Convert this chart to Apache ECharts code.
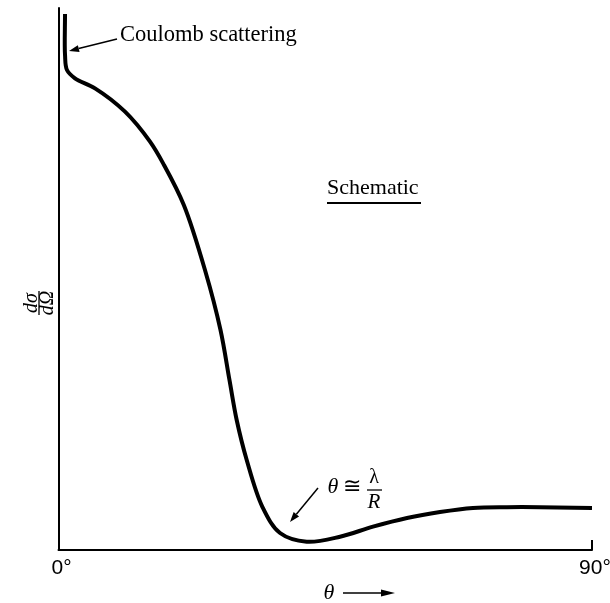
<!DOCTYPE html>
<html><head><meta charset="utf-8">
<script src="https://cdn.jsdelivr.net/npm/echarts@6/dist/echarts.min.js"></script>
<style>html,body{margin:0;padding:0;background:#fff}#c{width:610px;height:603px}</style>
</head><body><div id="c"></div>
<script>
// scattering angle (degrees)
const thetaDeg = [1.10, 1.10, 1.43, 2.78, 6.16, 11.22, 15.44, 17.80, 21.14, 24.71, 27.33, 28.84, 30.06, 31.75, 34.41, 37.37, 41.87, 47.49, 53.05, 58.79, 64.36, 69.92, 75.66, 81.23, 90.0];
// differential cross section (arbitrary units, schematic)
const crossSection = [98.89, 91.33, 88.56, 87.03, 85.18, 80.87, 75.33, 71.03, 63.65, 51.66, 40.59, 31.37, 23.99, 16.61, 7.93, 3.14, 1.53, 2.45, 4.30, 5.90, 7.0, 7.75, 7.9, 7.9, 7.75];
const xTickValues = [0, 90];
const xTickLabels = ['0°', '90°'];

const SERIF = '"Liberation Serif","DejaVu Serif",serif';
const SANS = '"Liberation Sans","DejaVu Sans",sans-serif';

function arrow(x1, y1, x2, y2, len, w) {
  const dx = x2 - x1, dy = y2 - y1, L = Math.hypot(dx, dy);
  const ux = dx / L, uy = dy / L, px = -uy, py = ux;
  const bx = x2 - ux * len, by = y2 - uy * len;
  return [
    { type: 'line', shape: { x1: x1, y1: y1, x2: bx, y2: by }, style: { stroke: '#000', lineWidth: 1.5 } },
    { type: 'polygon', shape: { points: [[x2, y2], [bx + px * w, by + py * w], [bx - px * w, by - py * w]] }, style: { fill: '#000' } }
  ];
}

// centripetal Catmull-Rom through pixel points -> SVG path
function catmullPath(P) {
  const n = P.length, a = 0.5;
  const pt = i => {
    if (i < 0) return [2 * P[0][0] - P[1][0], 2 * P[0][1] - P[1][1]];
    if (i >= n) return [2 * P[n - 1][0] - P[n - 2][0], 2 * P[n - 1][1] - P[n - 2][1]];
    return P[i];
  };
  const dist = (p, q) => Math.max(1e-6, Math.hypot(p[0] - q[0], p[1] - q[1]));
  let d = 'M' + P[0][0] + ',' + P[0][1];
  for (let i = 0; i < n - 1; i++) {
    const p0 = pt(i - 1), p1 = pt(i), p2 = pt(i + 1), p3 = pt(i + 2);
    const d1 = dist(p0, p1), d2 = dist(p1, p2), d3 = dist(p2, p3);
    const d1a = Math.pow(d1, a), d2a = Math.pow(d2, a), d3a = Math.pow(d3, a);
    const d12a = d1a * d1a, d22a = d2a * d2a, d32a = d3a * d3a;
    const b1 = [0, 1].map(k => (d12a * p2[k] - d22a * p0[k] + (2 * d12a + 3 * d1a * d2a + d22a) * p1[k]) / (3 * d1a * (d1a + d2a)));
    const b2 = [0, 1].map(k => (d32a * p1[k] - d22a * p3[k] + (2 * d32a + 3 * d3a * d2a + d22a) * p2[k]) / (3 * d3a * (d3a + d2a)));
    d += ' C' + b1[0] + ',' + b1[1] + ' ' + b2[0] + ',' + b2[1] + ' ' + p2[0] + ',' + p2[1];
  }
  return d;
}

const chart = echarts.init(document.getElementById('c'), null, { renderer: 'canvas' });
const data = thetaDeg.map((t, i) => [t, crossSection[i]]);

chart.setOption({
  animation: false,
  backgroundColor: '#fff',
  grid: { left: 58.5, right: 18, top: 8, bottom: 53, containLabel: false, outerBoundsMode: 'none' },
  xAxis: {
    type: 'value', min: 0, max: 90, interval: 90,
    axisLine: { show: true, lineStyle: { color: '#000', width: 2 } },
    axisTick: { show: true, inside: true, length: 10, lineStyle: { color: '#000', width: 2 } },
    axisLabel: {
      margin: 8, color: '#000', fontFamily: SANS, fontSize: 21, padding: [0, 0, 0, 6],
      formatter: v => xTickLabels[xTickValues.indexOf(v)]
    },
    splitLine: { show: false }
  },
  yAxis: {
    type: 'value', min: 0, max: 100,
    axisLine: { show: true, lineStyle: { color: '#000', width: 2 } },
    axisTick: { show: false },
    axisLabel: { show: false },
    splitLine: { show: false }
  },
  series: [{
    type: 'custom', data: data, clip: false,
    renderItem: function (params, api) {
      if (params.dataIndex !== 0) return null;
      const pts = data.map(p => api.coord(p));
      return {
        type: 'path',
        shape: { pathData: catmullPath(pts) },
        style: { stroke: '#000', lineWidth: 4, fill: null, lineJoin: 'round', lineCap: 'butt' }
      };
    }
  }],
  graphic: [
    { type: 'text', left: 120, top: 24, style: { text: 'Coulomb scattering', font: '22.5px ' + SERIF, fill: '#000' } },
    ...arrow(117, 39, 69, 51, 10, 3.5),
    { type: 'text', left: 327, top: 177, style: { text: 'Schematic', font: '22px ' + SERIF, fill: '#000' } },
    { type: 'line', shape: { x1: 327, y1: 203, x2: 421, y2: 203 }, style: { stroke: '#000', lineWidth: 2 } },
    // theta ≅ lambda / R
    { type: 'text', x: 333, y: 487, style: { text: 'θ', font: 'italic 22px ' + SERIF, fill: '#000', align: 'center', verticalAlign: 'middle' } },
    { type: 'text', x: 352, y: 487, style: { text: '≅', font: '22px ' + SERIF, fill: '#000', align: 'center', verticalAlign: 'middle' } },
    { type: 'text', x: 374, y: 478, style: { text: 'λ', font: '20px ' + SERIF, fill: '#000', align: 'center', verticalAlign: 'middle' } },
    { type: 'line', shape: { x1: 367, y1: 490, x2: 382, y2: 490 }, style: { stroke: '#000', lineWidth: 1.3 } },
    { type: 'text', x: 374, y: 502, style: { text: 'R', font: 'italic 21px ' + SERIF, fill: '#000', align: 'center', verticalAlign: 'middle' } },
    ...arrow(318, 488, 290, 522, 10, 3.5),
    // x axis name
    { type: 'text', x: 329, y: 593, style: { text: 'θ', font: 'italic 22px ' + SERIF, fill: '#000', align: 'center', verticalAlign: 'middle' } },
    ...arrow(343, 593, 395, 593, 14, 3.5),
    // y axis name (rotated fraction)
    {
      type: 'group', x: 39, y: 303, rotation: Math.PI / 2,
      children: [
        { type: 'text', x: 0, y: -7, style: { text: 'dσ', font: 'italic 20px ' + SERIF, fill: '#000', align: 'center', verticalAlign: 'middle' } },
        { type: 'line', shape: { x1: -12, y1: 0, x2: 12, y2: 0 }, style: { stroke: '#000', lineWidth: 1.3 } },
        { type: 'text', x: 0, y: 8.5, style: { text: 'dΩ', font: 'italic 20px ' + SERIF, fill: '#000', align: 'center', verticalAlign: 'middle' } }
      ]
    }
  ]
});
</script></body></html>
